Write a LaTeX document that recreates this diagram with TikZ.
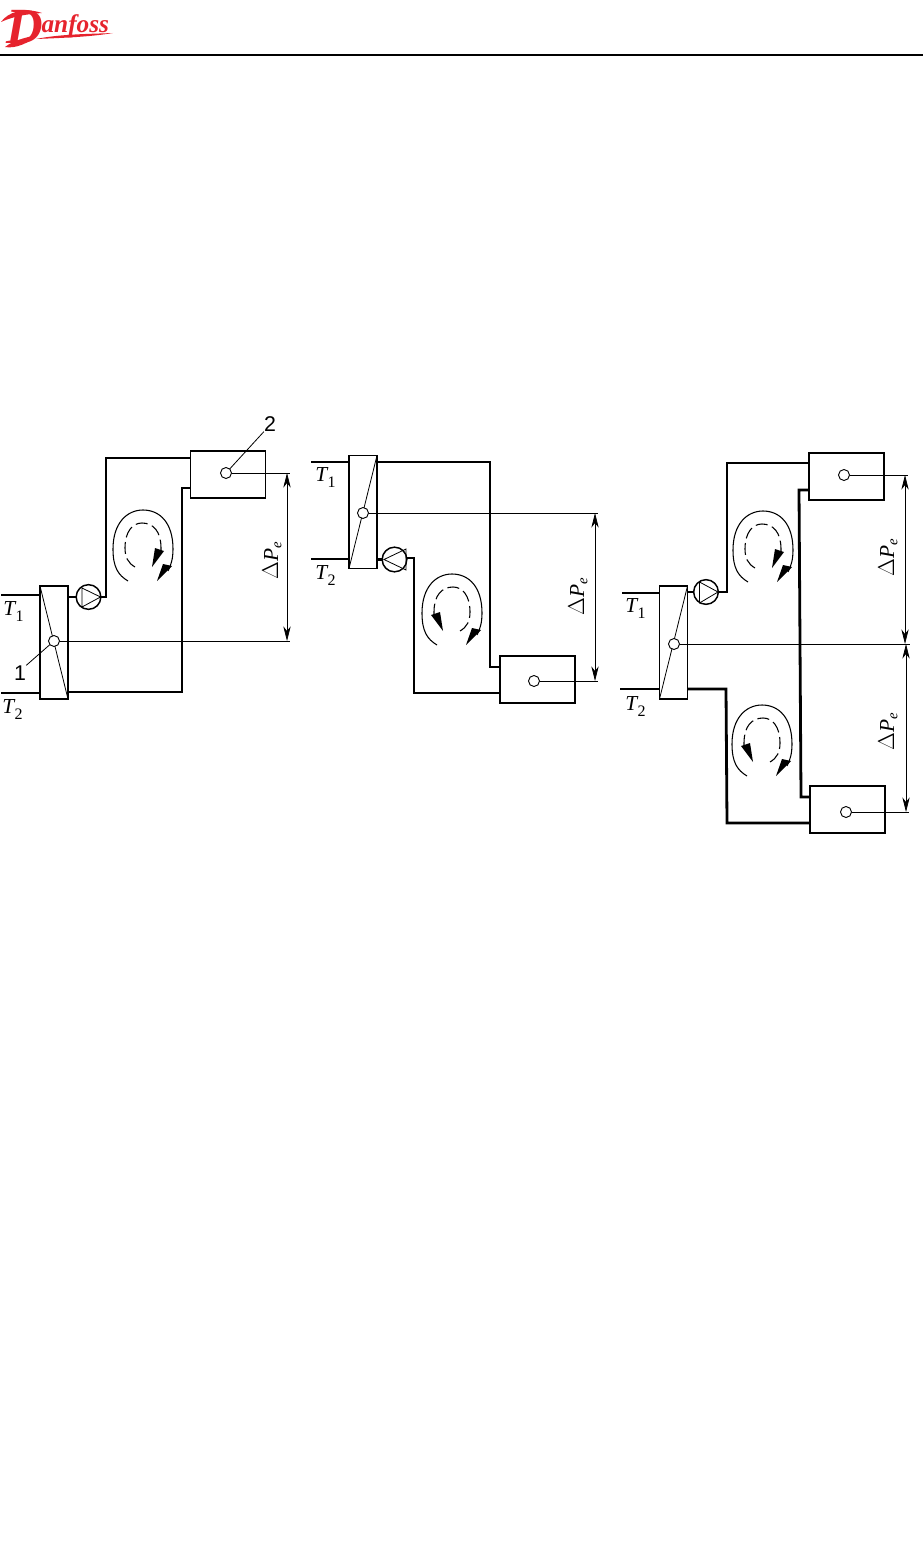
\documentclass[tikz,border=0pt]{standalone}
\usepackage{fontspec}
\setmainfont{Liberation Serif}
\newfontfamily\numfont{Liberation Sans}
\usetikzlibrary{arrows.meta}
\definecolor{logored}{RGB}{230,35,45}
\newcommand{\templabel}[1]{\textit{T}\kern-0.5pt\raisebox{-4.5pt}{\fontsize{12}{12}\selectfont #1}}
\newcommand{\dplabel}{$\Delta$\textit{P}\raisebox{-2.5pt}{\fontsize{11}{11}\selectfont\textit{e}}}
\newcommand{\flowdash}{%
    \draw[line width=0.8pt, dash pattern=on 9pt off 3.5pt] (-8,-14) .. controls (-15,-18) and (-18,-24) .. (-18,-33)
        .. controls (-18,-50) and (-10,-58) .. (-1,-58)
        .. controls (10,-58) and (18,-50) .. (18,-33) -- (18,-30);
    \fill (9,-14) -- (21,-30) -- (12,-33) -- cycle;
}
\tikzset{
    pipe/.style={line width=2.1pt, line join=miter},
    thin line/.style={line width=0.6pt},
    dimline/.style={line width=0.5pt, {Stealth[length=11pt, width=5.5pt, inset=3.5pt]}-{Stealth[length=11pt, width=5.5pt, inset=3.5pt]}},
    exchanger/.style={draw, line width=0.9pt, fill=white, minimum width=21pt, minimum height=84.75pt, inner sep=0pt, outer sep=0pt},
    emitter/.style={draw, line width=0.9pt, fill=white, minimum width=56.25pt, minimum height=35.25pt, inner sep=0pt, outer sep=0pt},
    sensor/.style={draw, circle, line width=0.7pt, fill=white, minimum size=8.25pt, inner sep=0pt, outer sep=0pt},
    pump/.style={draw, circle, line width=1.1pt, fill=white, minimum size=18.5pt, inner sep=0pt, outer sep=0pt},
    templ/.style={font=\fontsize{16}{16}\selectfont, inner sep=0pt, anchor=base west},
    diml/.style={font=\fontsize{16}{16}\selectfont, inner sep=0pt, rotate=90},
    numl/.style={font=\numfont\fontsize{16}{16}\selectfont, inner sep=0pt},
    flowouter/.pic={
        \draw[line width=0.8pt] (-15,0) .. controls (-25,-6) and (-30,-14) .. (-30,-32)
            .. controls (-30,-58) and (-16,-71) .. (0,-71)
            .. controls (17,-71) and (30,-58) .. (30,-32)
            .. controls (30,-22) and (28,-16) .. (25,-10);
        \fill (14,0) -- (29,-15) -- (20,-17) -- cycle;
    },
    loopcw/.pic={
        \pic {flowouter};
        \flowdash
    },
    loopccw/.pic={
        \pic {flowouter};
        \begin{scope}[xscale=-1]
            \flowdash
        \end{scope}
    },
}
\begin{document}
\begin{tikzpicture}[x=0.75pt, y=-0.75pt]
    \useasboundingbox (0,0) rectangle (923,1552);
    % header
    \node[text=logored, font=\bfseries\itshape, inner sep=0pt, anchor=base west] (logo) at (6,44)
        {\fontsize{38}{38}\selectfont D\kern-1pt\raisebox{8.5pt}{\fontsize{19}{19}\selectfont anfoss}};
    \fill[logored] (1,22) .. controls (8,12) and (24,7) .. (42,13) .. controls (28,14) and (14,16) .. (1,22) -- cycle;
    \fill[logored] (5,47) .. controls (14,40) and (25,38) .. (36,35) .. controls (30,43) and (15,49) .. (5,47) -- cycle;
    \fill[logored] (36,39) .. controls (60,34) and (90,34) .. (113,33) .. controls (90,37) and (60,38) .. (36,39) -- cycle;
    \coordinate (headl) at (0,55);
    \coordinate (headr) at (923,55);
    \draw[line width=1.5pt] (headl) -- (headr);
    % left
    \node[exchanger] (hxa) at (54,642.5) {};
    \node[emitter] (emita) at (228,474.5) {};
    \node[pump] (pumpa) at (88.5,597) {};
    \draw[thin line] (hxa.north west) -- (hxa.south east);
    \draw[thin line] (82,588) -- (100.5,597) -- (82,607) -- cycle;
    \node[sensor] (senaa) at (54,641) {};
    \node[sensor] (senab) at (226,473) {};
    \coordinate (a1) at (1,595);
    \coordinate (a2) at (1,693);
    \coordinate (a3) at (106,458);
    \coordinate (a4) at (182,488);
    \coordinate (a5) at (182,692);
    \coordinate (a6) at (290,473);
    \coordinate (a7) at (290,641);
    \coordinate (a8) at (287,473);
    \coordinate (a9) at (287,641);
    \draw[pipe] (a1) -- (a1 -| hxa.west);
    \draw[pipe] (a2) -- (a2 -| hxa.west);
    \draw[pipe] (pumpa -| hxa.east) -- (pumpa.west);
    \draw[pipe] (pumpa.east) -| (a3) -- (a3 -| emita.west);
    \draw[pipe] (a4 -| emita.west) -- (a4) -- (a5) -- (a5 -| hxa.east);
    \draw[thin line] (senab.east) -- (a6);
    \draw[thin line] (senaa.east) -- (a7);
    \draw[dimline] (a8) -- (a9);
    \pic at (143,581) {loopcw};
    \node[templ] (ta) at (3,615) {\templabel{1}};
    \node[templ] (tb) at (2,713) {\templabel{2}};
    \node[diml] (dpa) at (272,561) {\dplabel};
    \node[numl] (numa) at (20,673) {1};
    \node[numl] (numb) at (270,424) {2};
    \draw[thin line] (numa.north east) -- (senaa);
    \draw[thin line] (numb.south west) -- (senab);
    % middle
    \node[exchanger] (hxb) at (363,512) {};
    \node[emitter] (emitb) at (537.5,679.5) {};
    \node[pump] (pumpb) at (394.5,559.5) {};
    \draw[thin line] (hxb.south west) -- (hxb.north east);
    \draw[thin line] (406,549) -- (384,559.5) -- (406,570) -- cycle;
    \node[sensor] (senba) at (363,513) {};
    \node[sensor] (senbb) at (534,681) {};
    \coordinate (b1) at (311,462);
    \coordinate (b2) at (311,559);
    \coordinate (b3) at (490,462);
    \coordinate (b4) at (490,667);
    \coordinate (b5) at (414,558);
    \coordinate (b6) at (414,693);
    \coordinate (b7) at (598,513);
    \coordinate (b8) at (598,681);
    \coordinate (b9) at (595,513);
    \coordinate (b10) at (595,681);
    \draw[pipe] (b1) -- (b1 -| hxb.west);
    \draw[pipe] (b2) -- (b2 -| hxb.west);
    \draw[pipe] (b3 -| hxb.east) -- (b3) -- (b4) -- (b4 -| emitb.west);
    \draw[pipe] (hxb.east |- pumpb) -- (pumpb.west);
    \draw[pipe] (b5 -| pumpb.east) -- (b5) -- (b6) -- (b6 -| emitb.west);
    \draw[thin line] (senba.east) -- (b7);
    \draw[thin line] (senbb.east) -- (b8);
    \draw[dimline] (b9) -- (b10);
    \pic at (452,645) {loopccw};
    \node[templ] (tc) at (315,481) {\templabel{1}};
    \node[templ] (td) at (315,579) {\templabel{2}};
    \node[diml] (dpb) at (578,597) {\dplabel};
    % right
    \node[exchanger] (hxc) at (673.5,642.5) {};
    \node[emitter] (emitc) at (846.5,476.5) {};
    \node[emitter] (emitd) at (847.5,809.5) {};
    \node[pump] (pumpc) at (706,592) {};
    \draw[thin line] (hxc.south west) -- (hxc.north east);
    \draw[thin line] (699.5,582) -- (718,592) -- (699.5,603) -- cycle;
    \node[sensor] (senca) at (674,644) {};
    \node[sensor] (sencb) at (844,475) {};
    \node[sensor] (sencc) at (846,812) {};
    \coordinate (c1) at (622,593);
    \coordinate (c2) at (620,689);
    \coordinate (c3) at (727,463);
    \coordinate (c4) at (799,490);
    \coordinate (c5) at (801,797);
    \coordinate (c6) at (726,689);
    \coordinate (c7) at (727,823);
    \coordinate (c8) at (908,475);
    \coordinate (c9) at (910,644);
    \coordinate (c10) at (909,812);
    \coordinate (c11) at (905,475);
    \coordinate (c12) at (905,644);
    \coordinate (c13) at (906,644);
    \coordinate (c14) at (906,812);
    \draw[pipe] (c1) -- (c1 -| hxc.west);
    \draw[pipe] (c2) -- (c2 -| hxc.west);
    \draw[pipe] (hxc.east |- pumpc) -- (pumpc.west);
    \draw[pipe] (pumpc.east) -| (c3) -- (c3 -| emitc.west);
    \draw[pipe] (c4 -| emitc.west) -- (c4) -- (c5) -- (c5 -| emitd.west);
    \draw[pipe] (c6 -| hxc.east) -- (c6) -- (c7) -- (c7 -| emitd.west);
    \draw[thin line] (sencb.east) -- (c8);
    \draw[thin line] (senca.east) -- (c9);
    \draw[thin line] (sencc.east) -- (c10);
    \draw[dimline] (c11) -- (c12);
    \draw[dimline] (c13) -- (c14);
    \pic at (763,582) {loopcw};
    \pic at (762,776) {loopccw};
    \node[templ] (te) at (625,612) {\templabel{1}};
    \node[templ] (tf) at (625,710) {\templabel{2}};
    \node[diml] (dpc) at (888,558) {\dplabel};
    \node[diml] (dpd) at (888,732) {\dplabel};
\end{tikzpicture}
\end{document}
